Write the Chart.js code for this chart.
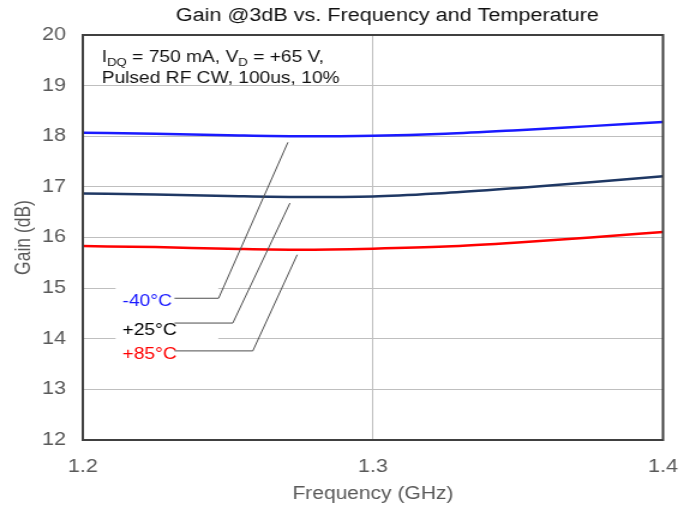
<!DOCTYPE html>
<html>
<head>
<meta charset="utf-8">
<script src="https://cdn.jsdelivr.net/npm/chart.js@4.4.1/dist/chart.umd.min.js"></script>
<style>
    html, body { margin: 0; padding: 0; background: #fff; overflow: hidden; }
    /* the chart is laid out narrow and widened to the page width */
    #wrap { width: 581px; height: 510px; transform: scaleX(1.2); transform-origin: 0 0; }
</style>
</head>
<body>
<div id="wrap"><canvas id="gain-canvas"></canvas></div>
<script>
// gain vs frequency, one series per case temperature
const frequencies = [1.2, 1.225, 1.25, 1.275, 1.3, 1.325, 1.35, 1.375, 1.4];
const gain_minus40 = [18.07, 18.05, 18.02, 18.00, 18.01, 18.05, 18.12, 18.20, 18.28];
const gain_plus25 = [16.87, 16.85, 16.82, 16.80, 16.81, 16.88, 16.98, 17.09, 17.21];
const gain_plus85 = [15.83, 15.81, 15.78, 15.76, 15.78, 15.82, 15.90, 16.00, 16.11];

const temp_labels = ['-40°C', '+25°C', '+85°C'];
const x_ticks = [1.2, 1.3, 1.4];
const y_ticks = [12, 13, 14, 15, 16, 17, 18, 19, 20];

// callout text anchors and leader lines, in (GHz, dB)
const callout_text = [[1.2137, 14.73], [1.2137, 14.17], [1.2137, 13.69]];
const callout_lines = [
    [[1.2316, 14.80], [1.2468, 14.80], [1.2707, 17.88]],
    [[1.2316, 14.31], [1.2517, 14.31], [1.2714, 16.68]],
    [[1.2316, 13.76], [1.2586, 13.76], [1.2739, 15.66]]
];
const callout_box = [[1.2113, 15.22], [1.2467, 13.55]];

const FONT = '"Liberation Sans", Arial, sans-serif';
const line_colors = ['#1a1aff', '#1f3864', '#ff0000'];
const text_colors = ['#1a1aff', '#000000', '#ff0000'];

function series(values) {
    return values.map((v, i) => ({ x: frequencies[i], y: v }));
}

const overlay = {
    id: 'overlay',
    afterDraw(chart) {
        const { ctx, chartArea: a, scales: { x, y } } = chart;
        ctx.save();

        // plot frame
        ctx.strokeStyle = '#404040';
        ctx.lineWidth = 2;
        ctx.strokeRect(a.left, a.top, a.right - a.left, a.bottom - a.top);

        // title
        ctx.fillStyle = '#111111';
        ctx.font = '18px ' + FONT;
        ctx.textAlign = 'center';
        ctx.textBaseline = 'middle';
        ctx.fillText('Gain @3dB vs. Frequency and Temperature', (a.left + a.right) / 2 + 12, 16);

        // test conditions
        ctx.textAlign = 'left';
        ctx.textBaseline = 'alphabetic';
        let tx = x.getPixelForValue(1.2065);
        const l1 = y.getPixelForValue(19.47);
        const l2 = y.getPixelForValue(19.06);
        const parts = [['I', false], ['DQ', true], [' = 750 mA, V', false], ['D', true], [' = +65 V,', false]];
        for (const [t, sub] of parts) {
            ctx.font = (sub ? '11px ' : '16px ') + FONT;
            ctx.fillText(t, tx, l1 + (sub ? 4 : 0));
            tx += ctx.measureText(t).width;
        }
        ctx.font = '16px ' + FONT;
        ctx.fillText('Pulsed RF CW, 100us, 10%', x.getPixelForValue(1.2065), l2);

        // white box behind the callout labels
        const bx0 = x.getPixelForValue(callout_box[0][0]);
        const by0 = y.getPixelForValue(callout_box[0][1]);
        const bx1 = x.getPixelForValue(callout_box[1][0]);
        const by1 = y.getPixelForValue(callout_box[1][1]);
        ctx.fillStyle = '#ffffff';
        ctx.fillRect(bx0, by0, bx1 - bx0, by1 - by0);

        // leader lines
        ctx.strokeStyle = '#4d4d4d';
        ctx.lineWidth = 1;
        for (const pts of callout_lines) {
            ctx.beginPath();
            pts.forEach(([fx, fy], i) => {
                const px = x.getPixelForValue(fx);
                const py = y.getPixelForValue(fy);
                if (i === 0) ctx.moveTo(px, py); else ctx.lineTo(px, py);
            });
            ctx.stroke();
        }

        // temperature labels
        ctx.font = '16px ' + FONT;
        ctx.textBaseline = 'middle';
        temp_labels.forEach((t, i) => {
            ctx.fillStyle = text_colors[i];
            ctx.fillText(t, x.getPixelForValue(callout_text[i][0]), y.getPixelForValue(callout_text[i][1]));
        });

        ctx.restore();
    }
};

const datasets = [gain_minus40, gain_plus25, gain_plus85].map((vals, i) => ({
    label: temp_labels[i],
    data: series(vals),
    borderColor: line_colors[i],
    backgroundColor: line_colors[i],
    borderWidth: 2.5,
    pointRadius: 0,
    cubicInterpolationMode: 'monotone',
    fill: false
}));

new Chart(document.getElementById('gain-canvas').getContext('2d'), {
    type: 'line',
    data: { datasets: datasets },
    options: {
        responsive: true,
        maintainAspectRatio: false,
        animation: false,
        layout: { padding: { top: 35, right: 23.5, left: 0, bottom: 0 } },
        plugins: {
            legend: { display: false },
            tooltip: { enabled: false }
        },
        scales: {
            x: {
                type: 'linear',
                min: 1.2,
                max: 1.4,
                afterBuildTicks: (s) => { s.ticks = x_ticks.map(v => ({ value: v })); },
                afterFit: (s) => { s.height = 70; },
                grid: { color: '#bfbfbf', lineWidth: 1, drawTicks: false },
                border: { display: false },
                ticks: {
                    padding: 16,
                    color: '#595959',
                    font: { family: FONT, size: 18 },
                    callback: (v) => Number(v).toFixed(1)
                },
                title: {
                    display: true,
                    text: 'Frequency (GHz)',
                    color: '#595959',
                    font: { family: FONT, size: 17.5 },
                    padding: { top: 0, bottom: 5 }
                }
            },
            y: {
                min: 12,
                max: 20,
                afterBuildTicks: (s) => { s.ticks = y_ticks.map(v => ({ value: v })); },
                afterFit: (s) => { s.width = 69; },
                grid: { color: '#bfbfbf', lineWidth: 1, drawTicks: false },
                border: { display: false },
                ticks: {
                    padding: 14,
                    color: '#595959',
                    font: { family: FONT, size: 18 }
                },
                title: {
                    display: true,
                    text: 'Gain (dB)',
                    color: '#595959',
                    font: { family: FONT, size: 17.5 },
                    padding: { top: 10, bottom: 0 }
                }
            }
        }
    },
    plugins: [overlay]
});
</script>
</body>
</html>
